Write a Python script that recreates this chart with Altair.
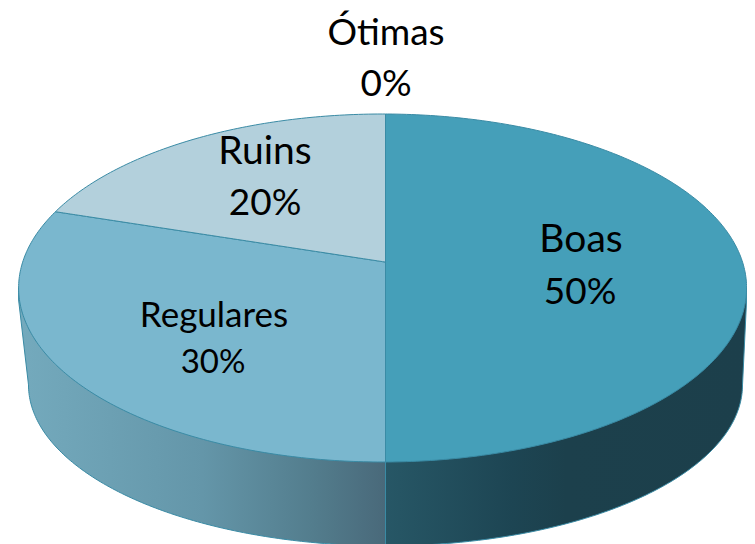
import numpy as np
import pandas as pd
import altair as alt

categories = ["Boas", "Regulares", "Ruins", "Ótimas"]
shares = [50, 30, 20, 0]
percent_labels = ["50%", "30%", "20%", "0%"]
face_colors = ["#459fb9", "#7ab7ce", "#b3d0dc"]
edge_color = "#3a8ba5"

# --- layout (pixel geometry of the tilted pie) ---
W, H = 739, 536
CX, CY, RX, RY = 382.6 - 8, 288 - 8, 364.0, 174.0
APEX_X = (385.5 - 8 - CX) / RX   # slices meet here (perspective)
APEX_V = 0.149
K = 0.86                         # perspective compression of angles
BOT_CY, BOT_RX, BOT_RY = -0.557, 357.0 / RX, 0.925
EDGE_V = -0.069
x_scale = alt.Scale(domain=[-CX / RX, (W - CX) / RX], range=[0, W], nice=False, zero=False)
y_scale = alt.Scale(domain=[(CY - H) / RY, CY / RY], range=[H, 0], nice=False, zero=False)
X = lambda t="u": alt.X(f"{t}:Q", scale=x_scale, axis=None)
Y = lambda t="v": alt.Y(f"{t}:Q", scale=y_scale, axis=None)


def warped(share_cum):
    th = 2 * np.pi * share_cum / 100
    return 2 * np.arctan(K * np.tan(th / 2)) % (2 * np.pi)


boundary = warped(shares[0] + shares[1])
ub, vb = np.sin(boundary), np.cos(boundary)


def ell(u):
    return np.sqrt(np.clip(1 - u ** 2, 0, 1))


def radial(u):
    return APEX_V + (vb - APEX_V) * (u - APEX_X) / (ub - APEX_X)


# faces
us = np.sort(np.r_[APEX_X, np.sin(np.linspace(0, np.pi / 2, 120))])
us = us[us >= APEX_X]
boas = pd.DataFrame({"u": us, "v": ell(us), "v2": -ell(us)})

ul = np.sort(np.r_[np.sin(np.linspace(-np.pi / 2, 0, 120)), ub, APEX_X])
regulares = pd.DataFrame({"u": ul, "v": np.where(ul < ub, ell(ul), radial(ul)), "v2": -ell(ul)})
ur = ul[ul >= ub]
ruins = pd.DataFrame({"u": ur, "v": ell(ur), "v2": radial(ur)})


# side walls
def wall(lo, hi):
    p = np.linspace(lo, hi, 120)
    u = APEX_X + np.sin(p) * BOT_RX
    v = BOT_CY - BOT_RY * np.cos(p)
    return u, v


ur_w, vr_w = wall(0, np.pi / 2)
right_wall = pd.DataFrame({"u": np.r_[ur_w, 1.0], "v": 0.0, "v2": np.r_[vr_w, EDGE_V]})
ul_w, vl_w = wall(-np.pi / 2, 0)
left_wall = pd.DataFrame({"u": np.r_[-1.0, ul_w], "v": 0.0, "v2": np.r_[EDGE_V, vl_w]})


def grad(stops):
    return alt.Gradient(
        gradient="linear", x1=0, x2=1, y1=0, y2=0,
        stops=[alt.GradientStop(color=c, offset=o) for o, c in stops],
    )


def area(df, fill, width=1.0):
    return alt.Chart(df).mark_area(fill=fill, stroke=edge_color, strokeWidth=width, clip=True).encode(
        x=X(), y=Y(), y2="v2:Q"
    )


layers = [
    area(left_wall, grad([(0, "#74aabd"), (0.5, "#6496a9"), (0.8, "#537d8d"), (1, "#49697a")])),
    area(right_wall, grad([(0, "#275766"), (0.35, "#1d4553"), (0.5, "#1c404c"), (1, "#1c3f4b")])),
    area(regulares, face_colors[1]),
    area(ruins, face_colors[2]),
    area(boas, face_colors[0]),
]

# labels: pixel anchors -> data units (name x, y, size; percent x, y, size)
label_px = {
    "Boas": (581, 240, 39, 580, 293, 37),
    "Regulares": (214, 316, 35, 213, 363, 33),
    "Ruins": (265, 152, 39, 265, 204, 37),
    "Ótimas": (386, 33.5, 37, 386, 85, 37),
}
rows = []
for cat, pct in zip(categories, percent_labels):
    x1, y1, s1, x2, y2, s2 = label_px[cat]
    for txt, px, py, size in ((cat, x1, y1, s1), (pct, x2, y2, s2)):
        rows.append({"t": txt, "u": (px - 8 - CX) / RX, "v": (CY - (py - 8)) / RY, "s": size})
labels = pd.DataFrame(rows)
for size, sub in labels.groupby("s"):
    layers.append(
        alt.Chart(sub).mark_text(font="Lato", fontSize=int(size), color="#000000",
                                 align="center", baseline="middle").encode(
            x=X(), y=Y(), text="t:N"
        )
    )

chart = (
    alt.layer(*layers)
    .properties(width=W, height=H, padding=0, autosize=alt.AutoSizeParams(type="none"), background="#ffffff")
    .configure_view(strokeWidth=0)
)
chart.save("out.html", embed_options={"renderer": "svg", "actions": False})
